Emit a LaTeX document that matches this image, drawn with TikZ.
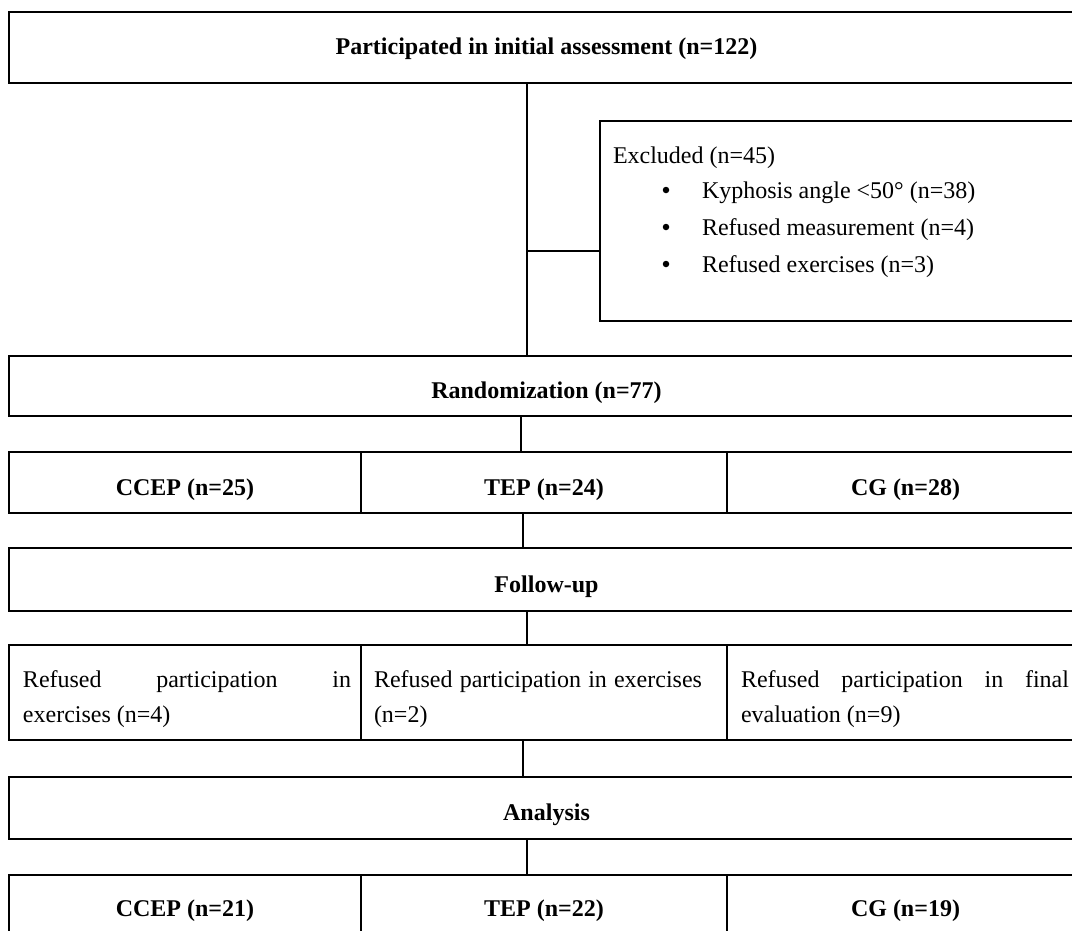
\documentclass[tikz,border=0pt]{standalone}
\usepackage{fontspec}
\setmainfont{Liberation Serif}
\newcommand{\dn}[2]{\raisebox{-#1pt}[\height][\depth]{#2}}
\begin{document}
\begin{tikzpicture}[x=1pt,y=-1pt,line width=2pt,
  box/.style={draw,rectangle,inner sep=0pt,outer sep=0pt,
    font=\fontsize{24}{35}\selectfont\bfseries},
  txt/.style={inner sep=0pt,outer sep=0pt,font=\fontsize{24}{35}\selectfont},
  jtxt/.style={txt,text width=328pt,align=justify,anchor=base west},
  dot/.style={circle,fill=black,draw=none,inner sep=0pt,minimum size=6.5pt}]
\useasboundingbox (0,0) rectangle (1072,930);
\clip (0,0) rectangle (1072,930);
% boxes
\node[box,minimum width=1075pt,minimum height=71pt] (init) at (546.5,47.5)
  {\dn{1}{Participated in initial assessment (n=122)}};
\node[box,minimum width=484pt,minimum height=200pt] (excl) at (842,221) {};
\node[txt,anchor=base west] (exh) at (613,163) {Excluded (n=45)};
\node[dot] (bu1) at (666,190) {};
\node[dot] (bu2) at (666,227) {};
\node[dot] (bu3) at (666,264) {};
\node[txt,anchor=base west] (ex1) at (702,198) {Kyphosis angle <50° (n=38)};
\node[txt,anchor=base west] (ex2) at (702,235) {Refused measurement (n=4)};
\node[txt,anchor=base west] (ex3) at (702,272) {Refused exercises (n=3)};
\node[box,minimum width=1075pt,minimum height=60pt] (rand) at (546.5,386)
  {\dn{7}{Randomization (n=77)}};
% row 1
\node[box,minimum width=352pt,minimum height=61pt] (r1a) at (185,482.5) {\dn{7}{CCEP (n=25)}};
\node[box,minimum width=366pt,minimum height=61pt] (r1b) at (544,482.5) {\dn{7}{TEP (n=24)}};
\node[box,minimum width=357pt,minimum height=61pt] (r1c) at (905.5,482.5) {\dn{7}{CG (n=28)}};
\node[box,minimum width=1075pt,minimum height=63pt] (fol) at (546.5,579.5)
  {\dn{7}{Follow-up}};
% row 2
\node[box,minimum width=352pt,minimum height=95pt] (r2a) at (185,692.5) {};
\node[box,minimum width=366pt,minimum height=95pt] (r2b) at (544,692.5) {};
\node[box,minimum width=357pt,minimum height=95pt] (r2c) at (905.5,692.5) {};
\node[jtxt] (t2a) at (23,687) {Refused participation in\linebreak exercises (n=4)};
\node[jtxt] (t2b) at (374,687) {Refused participation in exercises\linebreak (n=2)};
\node[jtxt] (t2c) at (741,687) {Refused participation in final\linebreak evaluation (n=9)};
\node[box,minimum width=1075pt,minimum height=62pt] (ana) at (546.5,808)
  {\dn{7}{Analysis}};
% row 3
\node[box,minimum width=352pt,minimum height=58pt] (r3a) at (185,904) {\dn{7}{CCEP (n=21)}};
\node[box,minimum width=366pt,minimum height=58pt] (r3b) at (544,904) {\dn{7}{TEP (n=22)}};
\node[box,minimum width=357pt,minimum height=58pt] (r3c) at (905.5,904) {\dn{7}{CG (n=19)}};
% connectors
\coordinate (xa) at (527,0);
\coordinate (xb) at (521,0);
\coordinate (xc) at (523,0);
\coordinate (yb) at (0,251);
\draw (init.south -| xa) -- (rand.north -| xa);
\draw (xa |- yb) -- (excl.west |- yb);
\draw (rand.south -| xb) -- (r1b.north -| xb);
\draw (r1b.south -| xc) -- (fol.north -| xc);
\draw (fol.south -| xa) -- (r2b.north -| xa);
\draw (r2b.south -| xc) -- (ana.north -| xc);
\draw (ana.south -| xa) -- (r3b.north -| xa);
\end{tikzpicture}
\end{document}
